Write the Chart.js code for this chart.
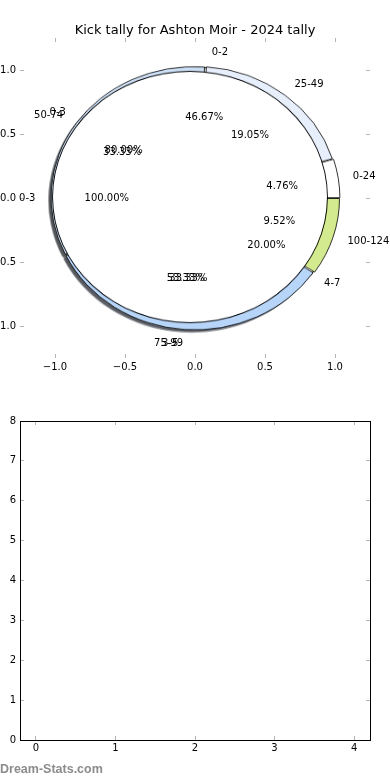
<!DOCTYPE html>
<html>
<head>
<meta charset="utf-8">
<script src="https://cdn.jsdelivr.net/npm/chart.js@4.4.1/dist/chart.umd.min.js"></script>
<style>
html, body { margin: 0; padding: 0; background: #fff; width: 390px; height: 780px; overflow: hidden; }
#wrap { position: relative; width: 390px; height: 780px; }
#top { position: absolute; left: 0; top: 0; z-index: 5; }
#bottom { position: absolute; left: 0; top: 400px; }
.pie { position: absolute; transform-origin: 50% 50%; }
#mark { position: absolute; left: 0; top: 762px; font: bold 12.5px "Liberation Sans", Arial, sans-serif; color: #8c8c8c; }
</style>
</head>
<body>
<div id="wrap">
  <canvas id="top" width="390" height="400"></canvas>
  <canvas id="bottom" width="390" height="380"></canvas>
  <div id="mark">Dream-Stats.com</div>
</div>
<script>
const chartTitle = 'Kick tally for Ashton Moir - 2024 tally'

// kicks by distance band
const distLabels = ['0-24', '25-49', '50-74', '75-99', '100-124']
const distKicks = [1, 4, 7, 7, 2]

// kicks per game bands
const gameLabels = ['0-3', '4-7']
const gameKicks = [4, 1]

const quarterLabels = ['0-2', '3-5']
const quarterKicks = [7, 8]

const allLabels = ['0-3']
const allKicks = [1]

// axis ticks
const pieTicks = [-1, -0.5, 0, 0.5, 1]
const emptyXTicks = [0, 1, 2, 3, 4]
const emptyYTicks = [0, 1, 2, 3, 4, 5, 6, 7, 8]

Chart.defaults.font.family = '"DejaVu Sans"'
Chart.defaults.font.size = 10
Chart.defaults.color = '#000'

// draw order, bottom to top
const pies = [
  { labels: quarterLabels, values: quarterKicks, colors: ['#ffffff', '#ffffff'], r: 1.02, cx: 0, cy: 0, explode: 0 },
  { labels: gameLabels, values: gameKicks, colors: ['#ffffff', '#ffffff'], r: 1.02, cx: 0, cy: 0, explode: 0 },
  { labels: distLabels, values: distKicks, colors: ['#ffffff', '#e7effc', '#cddff5', '#b7d5f9', '#d3eb8e'], r: 1.02, cx: 0, cy: 0, explode: 0.035 },
  { labels: allLabels, values: allKicks, colors: ['#ffffff'], r: 0.985, cx: -0.035, cy: 0.01, explode: 0 }
]
const labelDist = 1.14
const pctDist = 0.63

const fmt = v => (v < 0 ? '\u2212' : '') + Math.abs(v).toFixed(1)
const setTicks = arr => s => { s.ticks = arr.map(v => ({ value: v })) }

const pieText = {
  id: 'pieText',
  afterDraw(chart) {
    const { ctx, scales: { x, y } } = chart
    ctx.save()
    ctx.font = '10px "DejaVu Sans"'
    ctx.fillStyle = '#000'
    ctx.textBaseline = 'middle'
    pies.forEach(p => {
      const total = p.values.reduce((a, b) => a + b, 0)
      let start = 0
      p.values.forEach((v, i) => {
        const mid = (start + v / total / 2) * 2 * Math.PI
        start += v / total
        const lx = labelDist * Math.cos(mid), ly = labelDist * Math.sin(mid)
        ctx.textAlign = lx > 0 ? 'left' : 'right'
        ctx.fillText(p.labels[i], x.getPixelForValue(lx), y.getPixelForValue(ly))
        ctx.textAlign = 'center'
        ctx.fillText((v / total * 100).toFixed(2) + '%',
          x.getPixelForValue(pctDist * Math.cos(mid)), y.getPixelForValue(pctDist * Math.sin(mid)))
      })
    })
    ctx.restore()
  }
}

const tickGrid = color => ({ drawOnChartArea: false, drawTicks: true, tickLength: -4, color: color })

const topChart = new Chart(document.getElementById('top'), {
  type: 'scatter',
  data: { datasets: [] },
  options: {
    responsive: false,
    animation: false,
    events: [],
    layout: { padding: 0 },
    plugins: {
      legend: { display: false },
      tooltip: { enabled: false },
      title: { display: true, text: chartTitle, color: '#000', font: { size: 13, weight: 'normal' }, padding: { top: 22.4, bottom: 0 } }
    },
    scales: {
      x: { type: 'linear', position: 'bottom', min: -1.25, max: 1.25, afterBuildTicks: setTicks(pieTicks), afterFit: s => { s.height = 42 },
        border: { display: false }, grid: tickGrid('#b4b4b4'), ticks: { padding: 7, autoSkip: false, maxRotation: 0, callback: fmt } },
      x2: { type: 'linear', position: 'top', min: -1.25, max: 1.25, afterBuildTicks: setTicks(pieTicks), afterFit: s => { s.height = 0 },
        border: { display: false }, grid: tickGrid('#b4b4b4'), ticks: { display: false } },
      y: { type: 'linear', position: 'left', min: -1.25, max: 1.25, afterBuildTicks: setTicks(pieTicks), afterFit: s => { s.width = 20 },
        border: { display: false }, grid: tickGrid('#b4b4b4'), ticks: { padding: 8, autoSkip: false, callback: fmt } },
      y2: { type: 'linear', position: 'right', min: -1.25, max: 1.25, afterBuildTicks: setTicks(pieTicks), afterFit: s => { s.width = 20 },
        border: { display: false }, grid: tickGrid('#b4b4b4'), ticks: { display: false } }
    }
  },
  plugins: [pieText]
})

// the pies sit under the axes canvas, stretched like the axes are
const sx = topChart.scales.x.getPixelForValue(1) - topChart.scales.x.getPixelForValue(0)
const sy = topChart.scales.y.getPixelForValue(0) - topChart.scales.y.getPixelForValue(1)
const wrap = document.getElementById('wrap')
const topCanvas = document.getElementById('top')

function shade(hex) {
  const n = parseInt(hex.slice(1), 16)
  const r = (n >> 16) & 255, g = (n >> 8) & 255, b = n & 255
  return 'rgba(' + Math.round(r * 0.3) + ',' + Math.round(g * 0.3) + ',' + Math.round(b * 0.3) + ',0.5)'
}

function addPie(p, shadow) {
  const rpx = p.r * sx
  const pad = Math.ceil(p.explode * sx) + 4
  const size = Math.ceil(2 * (rpx + pad))
  const px = topChart.scales.x.getPixelForValue(p.cx + (shadow ? -0.02 : 0))
  const py = topChart.scales.y.getPixelForValue(p.cy + (shadow ? -0.02 : 0))
  const div = document.createElement('div')
  div.className = 'pie'
  div.style.width = size + 'px'
  div.style.height = size + 'px'
  div.style.left = (px - size / 2) + 'px'
  div.style.top = (py - size / 2) + 'px'
  div.style.transform = 'scaleY(' + (sy / sx) + ')'
  const cv = document.createElement('canvas')
  cv.width = size
  cv.height = size
  div.appendChild(cv)
  wrap.insertBefore(div, topCanvas)
  const colors = shadow ? p.colors.map(shade) : p.colors
  const single = p.values.length === 1
  const datasets = [{
    data: p.values.slice().reverse(),
    backgroundColor: colors.slice().reverse(),
    borderColor: '#000',
    borderWidth: shadow || single ? 0 : 0.8,
    offset: p.explode * sx,
    weight: rpx
  }]
  if (single && !shadow) {
    // a lone 100% wedge gets only its rim, no radius line
    datasets[0].weight = rpx - 0.9
    datasets.unshift({ data: p.values.slice(), backgroundColor: '#000', borderWidth: 0, weight: 0.9 })
  }
  new Chart(cv, {
    type: 'doughnut',
    data: { labels: p.labels.slice().reverse(), datasets: datasets },
    options: {
      responsive: false,
      animation: false,
      events: [],
      rotation: 90,
      cutout: 0,
      radius: rpx,
      layout: { padding: 0 },
      plugins: { legend: { display: false }, tooltip: { enabled: false } }
    }
  })
}

pies.forEach(p => addPie(p, true))
pies.forEach(p => addPie(p, false))

new Chart(document.getElementById('bottom'), {
  type: 'scatter',
  data: { datasets: [] },
  options: {
    responsive: false,
    animation: false,
    events: [],
    layout: { padding: 0 },
    plugins: { legend: { display: false }, tooltip: { enabled: false } },
    scales: {
      x: { type: 'linear', position: 'bottom', min: -0.2, max: 4.2, afterBuildTicks: setTicks(emptyXTicks), afterFit: s => { s.height = 40 },
        border: { display: true, color: '#000', width: 1 }, grid: tickGrid('#b4b4b4'), ticks: { padding: 6, autoSkip: false, maxRotation: 0 } },
      x2: { type: 'linear', position: 'top', min: -0.2, max: 4.2, afterBuildTicks: setTicks(emptyXTicks), afterFit: s => { s.height = 21 },
        border: { display: true, color: '#000', width: 1 }, grid: tickGrid('#b4b4b4'), ticks: { display: false } },
      y: { type: 'linear', position: 'left', min: 0, max: 8, afterBuildTicks: setTicks(emptyYTicks), afterFit: s => { s.width = 20 },
        border: { display: true, color: '#000', width: 1 }, grid: tickGrid('#b4b4b4'), ticks: { padding: 8, autoSkip: false } },
      y2: { type: 'linear', position: 'right', min: 0, max: 8, afterBuildTicks: setTicks(emptyYTicks), afterFit: s => { s.width = 20 },
        border: { display: true, color: '#000', width: 1 }, grid: tickGrid('#b4b4b4'), ticks: { display: false } }
    }
  }
})
</script>
</body>
</html>
